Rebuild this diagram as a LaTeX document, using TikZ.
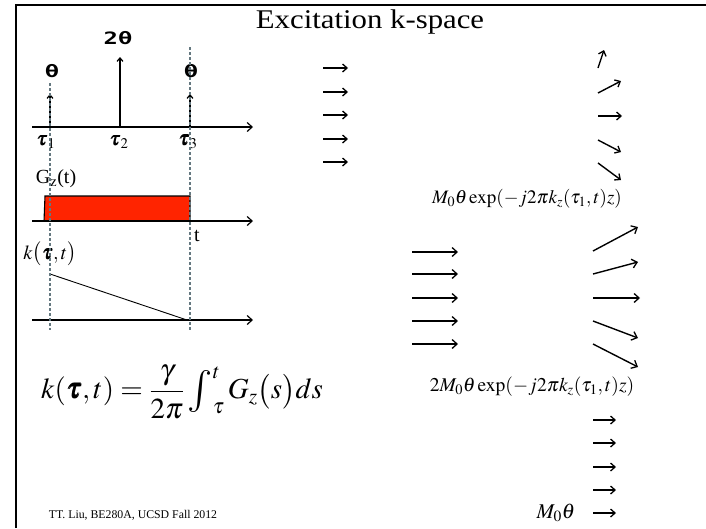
\documentclass[tikz,border=0pt]{standalone}
\usepackage{mathptmx}
\usepackage{bm}
\usepackage[no-math]{fontspec}
\setmainfont{Liberation Serif}
\newfontfamily\monob{DejaVu Sans Mono}
\usetikzlibrary{arrows.meta}
\definecolor{redfill}{RGB}{255,36,0}
\definecolor{dashcol}{RGB}{100,120,128}
\newcommand{\bigint}{\mathop{\vcenter{\hbox{\scalebox{1.45}{$\int$}}}}\nolimits}
\begin{document}
\begin{tikzpicture}[x=1pt,y=-1pt,
  axis/.style={line width=1.3pt,-{Straight Barb[length=5pt,width=9pt,line width=1.2pt]}},
  pulse/.style={line width=1.3pt,-{Straight Barb[length=3.5pt,width=6pt,line width=1.2pt]}},
  vec/.style={line width=1.4pt,-{Straight Barb[length=4.5pt,width=8pt,line width=1.3pt]}},
  longvec/.style={line width=1.4pt,-{Straight Barb[length=5pt,width=9pt,line width=1.3pt]}},
  guide/.style={dashcol,dashed,dash pattern=on 3pt off 2pt,line width=1.1pt},
  lbl/.style={inner sep=0pt}]
\useasboundingbox (0,0) rectangle (706,528);
% frame
\draw[line width=2.2pt] (16,528) -- (16,5) -- (706,5);
\node[lbl] (title) at (370,22) {\fontsize{27}{30}\selectfont\scalebox{1.14}[1]{Excitation k-space}};
% pulse diagram
\coordinate (a1s) at (32,127); \coordinate (a1e) at (253,127);
\draw[axis] (a1s) -- (a1e);
\coordinate (p1) at (50,127); \coordinate (p1t) at (50,94);
\coordinate (p2) at (120,127); \coordinate (p2t) at (120,57);
\coordinate (p3) at (190,127); \coordinate (p3t) at (190,94);
\draw[pulse] (p1) -- (p1t);
\draw[pulse] (p2) -- (p2t);
\draw[pulse] (p3) -- (p3t);
\node[lbl] (th1) at (52,71) {\fontsize{17}{18}\selectfont\monob\bfseries\scalebox{1.4}[1]{θ}};
\node[lbl] (th2) at (118,38) {\fontsize{17}{18}\selectfont\monob\bfseries\scalebox{1.4}[1]{2θ}};
\node[lbl] (th3) at (191,71) {\fontsize{17}{18}\selectfont\monob\bfseries\scalebox{1.4}[1]{θ}};
\node[lbl] (t1) at (46,142) {\fontsize{20}{22}\selectfont$\bm\tau_{\scriptstyle 1}$};
\node[lbl] (t2) at (119,142) {\fontsize{20}{22}\selectfont$\bm\tau_{\scriptstyle 2}$};
\node[lbl] (t3) at (188,142) {\fontsize{20}{22}\selectfont$\bm\tau_{\scriptstyle 3}$};
% gradient
\node[lbl] (gz) at (56,179) {\fontsize{20}{22}\selectfont G$_{\mathrm{z}}$(t)};
\coordinate (r1) at (44,221); \coordinate (r2) at (45,196);
\coordinate (r3) at (190,196); \coordinate (r4) at (190,221);
\fill[redfill] (r1) -- (r2) -- (r3) -- (r4) -- cycle;
\draw[line width=1.1pt] (r1) -- (r2) -- (r3) -- (r4);
\coordinate (a2s) at (32,221); \coordinate (a2e) at (253,221);
\draw[axis] (a2s) -- (a2e);
\node[lbl] (tl) at (197,236) {\fontsize{20}{22}\selectfont t};
% k trajectory
\node[lbl] (kl) at (50,254) {\fontsize{20}{22}\selectfont$k\bigl(\bm\tau,t\bigr)$};
\coordinate (k1) at (50,274); \coordinate (k2) at (187,320);
\draw[line width=0.9pt] (k1) -- (k2);
\coordinate (a3s) at (32,320); \coordinate (a3e) at (253,320);
\draw[axis] (a3s) -- (a3e);
% dashed guides
\coordinate (g1a) at (50,83); \coordinate (g1b) at (50,330);
\coordinate (g3a) at (190,47); \coordinate (g3b) at (190,330);
\draw[guide] (g1a) -- (g1b);
\draw[guide] (g3a) -- (g3b);
% formula
\node[lbl] (formula) at (182,392) {\fontsize{29}{31}\selectfont$k(\bm\tau,t)={\displaystyle\frac{\gamma}{2\pi}}\bigint_{\tau}^{t}G_{z}\bigl(s\bigr)ds$};
\node[lbl] (footer) at (133,515) {\fontsize{11.8}{13}\selectfont TT. Liu, BE280A, UCSD Fall 2012};
% middle column
\foreach \y [count=\i] in {68,92,115,139,162}{
  \coordinate (m\i s) at (323,\y); \coordinate (m\i e) at (348,\y);
  \draw[vec] (m\i s) -- (m\i e);
}
% right top
\coordinate (ra1) at (598,68); \coordinate (rb1) at (604,50);
\coordinate (ra2) at (598,93); \coordinate (rb2) at (621,81);
\coordinate (ra3) at (598,116); \coordinate (rb3) at (622,116);
\coordinate (ra4) at (598,140); \coordinate (rb4) at (621,152);
\coordinate (ra5) at (598,163); \coordinate (rb5) at (621,180);
\foreach \i in {1,...,5}{\draw[vec] (ra\i) -- (rb\i);}
\node[lbl] (lab1) at (527,199) {\fontsize{19}{21}\selectfont$M_{0}\theta\exp(-j2\pi k_{z}(\tau_{1},t)z)$};
% block 2 left
\foreach \y [count=\i] in {252,274,298,321,344}{
  \coordinate (l\i s) at (412,\y); \coordinate (l\i e) at (458,\y);
  \draw[longvec] (l\i s) -- (l\i e);
}
% block 2 right
\coordinate (sa1) at (593,251); \coordinate (sb1) at (638,227);
\coordinate (sa2) at (593,274); \coordinate (sb2) at (638,262);
\coordinate (sa3) at (593,298); \coordinate (sb3) at (640,298);
\coordinate (sa4) at (593,321); \coordinate (sb4) at (638,338);
\coordinate (sa5) at (593,344); \coordinate (sb5) at (638,367);
\foreach \i in {1,...,5}{\draw[longvec] (sa\i) -- (sb\i);}
\node[lbl] (lab2) at (532,387) {\fontsize{19.5}{21}\selectfont$2M_{0}\theta\exp(-j2\pi k_{z}(\tau_{1},t)z)$};
% bottom column
\foreach \y [count=\i] in {420,443,467,490,513}{
  \coordinate (b\i s) at (593,\y); \coordinate (b\i e) at (616,\y);
  \draw[vec] (b\i s) -- (b\i e);
}
\node[lbl] (lab3) at (556,513) {\fontsize{21}{23}\selectfont$M_{0}\theta$};
\end{tikzpicture}
\end{document}
